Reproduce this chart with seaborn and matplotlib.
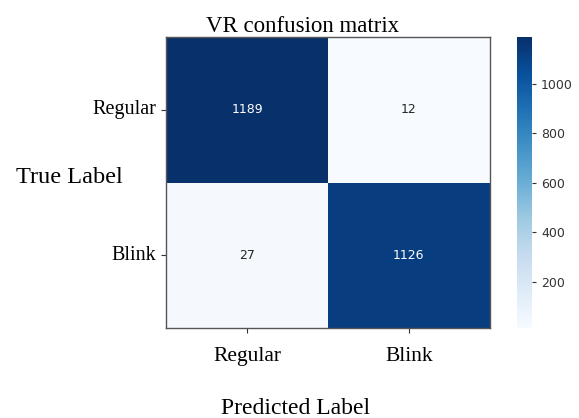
import numpy as np
import matplotlib
matplotlib.use("Agg")
import matplotlib.pyplot as plt
import seaborn as sns

# ======== DATA ========
class_names = ["Regular", "Blink"]
row_regular = [1189, 12]
row_blink = [27, 1126]
cm = np.array([row_regular, row_blink])

SERIF = ["Liberation Serif", "DejaVu Serif"]

# ======== PLOT ========
fig = plt.figure(figsize=(5.79, 4.18), dpi=100)
ax = fig.add_axes([0.287, 0.215, 0.559, 0.696])
cax = fig.add_axes([0.893, 0.215, 0.026, 0.696])

sns.heatmap(cm, annot=True, fmt="d", cmap="Blues", ax=ax, cbar_ax=cax,
            xticklabels=class_names, yticklabels=class_names,
            annot_kws={"fontsize": 9})

for side in ax.spines.values():
    side.set_visible(True)
    side.set_color("#555555")
    side.set_linewidth(1.0)
cbar = ax.collections[0].colorbar
cbar.outline.set_visible(True)
cbar.outline.set_edgecolor("#555555")
cbar.set_ticks([200, 400, 600, 800, 1000])
cax.tick_params(labelsize=9, colors="#333333", length=3)

ax.tick_params(axis="both", length=3.5, color="#333333")
ax.set_xticklabels(class_names, fontsize=15.5, family=SERIF, rotation=0)
ax.set_yticklabels(class_names, fontsize=14.5, family=SERIF, rotation=0)
ax.tick_params(axis="x", pad=10)

ax.set_title("VR confusion matrix", fontsize=16.5, family=SERIF, pad=3, x=0.42)
ax.set_xlabel("Predicted Label", fontsize=17, family=SERIF)
ax.set_ylabel("True Label", fontsize=17.5, family=SERIF, rotation=0)
ax.xaxis.set_label_coords(0.40, -0.24)
ax.yaxis.set_label_coords(-0.30, 0.48)

fig.savefig("out.png", dpi=100)
